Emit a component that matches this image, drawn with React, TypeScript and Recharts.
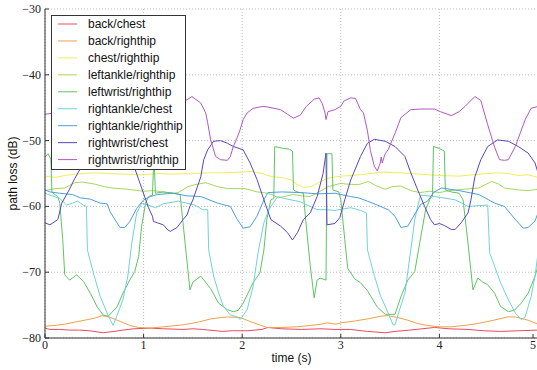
import React from 'react';
import { LineChart, Line, XAxis, YAxis, CartesianGrid, Legend } from 'recharts';

type Pt = [number, number];

const xTicks = [0, 1, 2, 3, 4, 5];
const yTicks = [-80, -70, -60, -50, -40, -30];

const seriesNames = [
  'back/chest',
  'back/righthip',
  'chest/righthip',
  'leftankle/righthip',
  'leftwrist/righthip',
  'rightankle/chest',
  'rightankle/righthip',
  'rightwrist/chest',
  'rightwrist/righthip',
];

const seriesColors = [
  '#e84a5f',
  '#f0a04b',
  '#f2ec5a',
  '#a6d75b',
  '#5ec462',
  '#6fd2dc',
  '#4b9fdc',
  '#5548c0',
  '#b058c8',
];

const backChest: Pt[] = [
  [0, -78.5], [0.05, -78.7], [0.15, -78.7], [0.25, -78.8], [0.35, -78.8], [0.45, -78.9], [0.59, -79.2],
  [0.7, -79.0], [0.79, -78.8], [0.9, -78.6], [1.07, -78.5], [1.2, -78.6], [1.4, -78.7], [1.5, -78.6],
  [1.6, -78.7], [1.8, -79.0], [1.9, -78.9], [2.05, -78.9], [2.2, -78.7], [2.26, -78.4], [2.4, -78.6],
  [2.6, -78.7], [2.8, -78.6], [2.94, -78.7], [3.1, -78.7], [3.27, -79.0], [3.45, -79.2], [3.55, -79.0],
  [3.7, -78.8], [3.95, -78.4], [4.1, -78.6], [4.29, -78.7], [4.45, -78.9], [4.62, -79.0], [4.8, -78.9],
  [5.0, -78.8],
];

const backRighthip: Pt[] = [
  [0, -78.2], [0.1, -78.1], [0.2, -77.9], [0.3, -77.6], [0.4, -77.3], [0.5, -77.0], [0.58, -76.6],
  [0.65, -76.8], [0.75, -77.4], [0.86, -78.1], [0.95, -78.4], [1.07, -78.5], [1.2, -78.3], [1.4, -78.0],
  [1.55, -77.6], [1.68, -77.1], [1.78, -76.9], [1.85, -76.8], [1.98, -76.9], [2.1, -77.6], [2.25, -78.4],
  [2.4, -78.4], [2.55, -78.3], [2.69, -78.1], [2.8, -77.9], [2.86, -77.7], [2.95, -77.9], [3.0, -77.7],
  [3.15, -77.4], [3.27, -77.1], [3.4, -76.7], [3.48, -76.6], [3.58, -76.9], [3.68, -77.3], [3.78, -77.8],
  [3.88, -78.1], [4.0, -78.3], [4.12, -78.3], [4.25, -78.1], [4.39, -77.8], [4.55, -77.3], [4.69, -76.8],
  [4.77, -76.8], [4.9, -77.3], [5.0, -77.9],
];

const chestRighthip: Pt[] = [
  [0, -55.4], [0.1, -55.6], [0.2, -55.3], [0.3, -55.1], [0.5, -54.9], [0.65, -55.0], [0.8, -55.1],
  [1.0, -55.2], [1.15, -55.0], [1.3, -55.1], [1.5, -55.0], [1.65, -54.9], [1.8, -54.9], [2.0, -54.8],
  [2.1, -54.7], [2.2, -55.0], [2.3, -55.5], [2.4, -55.6], [2.5, -56.0], [2.55, -56.6], [2.62, -57.1],
  [2.7, -57.0], [2.76, -56.5], [2.85, -55.8], [2.95, -55.5], [3.0, -55.4], [3.2, -55.2], [3.4, -54.8],
  [3.6, -54.9], [3.8, -55.1], [4.0, -55.3], [4.2, -55.4], [4.4, -55.1], [4.6, -54.9], [4.7, -55.0],
  [4.8, -55.3], [4.9, -55.2], [5.0, -55.6],
];

const leftankleRighthip: Pt[] = [
  [0, -57.6], [0.1, -57.3], [0.2, -57.2], [0.3, -56.4], [0.38, -56.3], [0.5, -56.6], [0.6, -57.0],
  [0.68, -57.2], [0.84, -57.4], [1.0, -57.7], [1.1, -57.6], [1.19, -57.8], [1.3, -58.0], [1.35, -57.9],
  [1.45, -57.0], [1.52, -56.7], [1.63, -56.4], [1.75, -57.0], [1.85, -57.3], [2.03, -57.3], [2.15, -57.8],
  [2.22, -57.9], [2.3, -58.2], [2.37, -58.7], [2.45, -58.4], [2.52, -58.2], [2.6, -58.4], [2.69, -58.5],
  [2.78, -57.8], [2.87, -57.0], [3.0, -56.5], [3.05, -56.6], [3.18, -56.7], [3.28, -56.2], [3.35, -56.8],
  [3.45, -57.4], [3.52, -57.0], [3.61, -56.9], [3.71, -57.6], [3.8, -57.9], [3.9, -57.7], [4.0, -57.9],
  [4.1, -57.6], [4.25, -57.4], [4.4, -57.2], [4.53, -56.2], [4.6, -56.6], [4.66, -57.2], [4.8, -57.5],
  [4.9, -57.6], [5.0, -57.4],
];

const leftwristRighthip: Pt[] = [
  [0, -52.5], [0.03, -52.0], [0.06, -52.8], [0.07, -57.8], [0.1, -58.2], [0.13, -58.5], [0.15, -59.5],
  [0.18, -65.0], [0.2, -70.4], [0.25, -71.2], [0.32, -70.4], [0.39, -71.4], [0.46, -73.2], [0.53, -75.3],
  [0.59, -76.5], [0.64, -76.7], [0.73, -75.3], [0.79, -73.2], [0.86, -71.2], [0.91, -69.9], [0.95, -67.6],
  [0.98, -63.0], [1.02, -59.5], [1.05, -58.5], [1.09, -58.3], [1.1, -54.0], [1.11, -54.2], [1.12, -58.0],
  [1.2, -57.8], [1.3, -58.0], [1.37, -58.2], [1.47, -72.7], [1.5, -71.5], [1.58, -70.6], [1.68, -72.5],
  [1.76, -74.7], [1.85, -75.7], [1.91, -76.0], [1.96, -75.8], [2.01, -74.7], [2.11, -71.6], [2.18, -70.1],
  [2.22, -66.6], [2.25, -62.0], [2.29, -59.0], [2.32, -58.8], [2.33, -50.9], [2.42, -51.2], [2.48, -51.3],
  [2.51, -51.6], [2.52, -57.5], [2.56, -57.8], [2.62, -58.0], [2.65, -63.0], [2.69, -69.0], [2.73, -73.9],
  [2.76, -71.2], [2.79, -70.9], [2.85, -71.2], [2.86, -52.0], [2.91, -52.0], [2.92, -57.5], [2.98, -57.8],
  [3.0, -59.0], [3.04, -65.0], [3.07, -69.4], [3.14, -71.0], [3.2, -71.6], [3.27, -72.8], [3.37, -75.3],
  [3.45, -76.4], [3.55, -76.4], [3.61, -73.7], [3.68, -71.2], [3.75, -69.9], [3.8, -65.6], [3.86, -60.5],
  [3.91, -58.7], [3.93, -58.5], [3.94, -50.9], [4.0, -51.2], [4.05, -51.6], [4.06, -57.5], [4.12, -57.8],
  [4.2, -58.0], [4.24, -59.0], [4.29, -65.6], [4.34, -72.7], [4.39, -70.9], [4.44, -71.5], [4.49, -71.9],
  [4.56, -73.2], [4.62, -75.2], [4.7, -76.0], [4.76, -75.8], [4.83, -74.7], [4.9, -73.2], [4.97, -70.6],
  [5.0, -69.1],
];

const rightankleChest: Pt[] = [
  [0, -58.0], [0.05, -58.3], [0.15, -58.8], [0.22, -59.8], [0.28, -59.5], [0.33, -59.2], [0.39, -59.8],
  [0.42, -60.0], [0.43, -66.6], [0.49, -70.1], [0.56, -73.7], [0.63, -76.2], [0.69, -78.1], [0.74, -76.2],
  [0.79, -74.2], [0.84, -70.6], [0.88, -65.6], [0.93, -61.0], [0.98, -59.5], [1.05, -59.8], [1.12, -60.2],
  [1.2, -59.6], [1.35, -59.2], [1.52, -59.8], [1.6, -60.5], [1.65, -60.5], [1.66, -66.6], [1.71, -70.6],
  [1.76, -73.1], [1.81, -75.2], [1.88, -76.5], [1.95, -76.8], [1.98, -77.2], [2.05, -75.7], [2.11, -72.2],
  [2.16, -67.1], [2.22, -62.5], [2.27, -60.5], [2.36, -58.5], [2.43, -58.8], [2.59, -59.3], [2.76, -60.5],
  [2.85, -60.5], [2.94, -60.6], [3.1, -60.2], [3.2, -60.6], [3.26, -61.0], [3.27, -66.6], [3.34, -70.5],
  [3.4, -73.5], [3.48, -76.2], [3.53, -78.0], [3.55, -78.0], [3.6, -75.5], [3.65, -73.2], [3.71, -66.6],
  [3.75, -62.0], [3.78, -60.0], [3.81, -58.3], [3.95, -58.5], [4.16, -59.0], [4.29, -60.0], [4.49, -59.8],
  [4.51, -67.1], [4.56, -69.1], [4.62, -71.6], [4.7, -74.2], [4.77, -76.2], [4.83, -77.2], [4.87, -76.8],
  [4.93, -73.7], [4.97, -70.6], [5.0, -67.1],
];

const rightankleRighthip: Pt[] = [
  [0, -57.5], [0.05, -57.8], [0.15, -58.0], [0.28, -58.2], [0.36, -58.7], [0.46, -58.9], [0.56, -59.5],
  [0.63, -59.6], [0.66, -60.8], [0.73, -62.5], [0.76, -63.2], [0.81, -63.2], [0.86, -62.3], [0.93, -60.3],
  [1.0, -59.0], [1.07, -58.5], [1.14, -58.2], [1.3, -58.0], [1.44, -58.4], [1.58, -58.5], [1.75, -59.5],
  [1.88, -60.0], [1.95, -62.0], [2.01, -63.3], [2.08, -63.1], [2.15, -61.5], [2.22, -59.0], [2.26, -57.9],
  [2.4, -57.8], [2.6, -57.9], [2.76, -58.1], [2.94, -58.0], [3.1, -58.5], [3.18, -58.7], [3.27, -59.2],
  [3.37, -59.8], [3.48, -60.5], [3.55, -61.5], [3.61, -63.2], [3.68, -63.0], [3.73, -61.7], [3.81, -59.7],
  [3.88, -59.2], [3.94, -57.9], [4.02, -57.2], [4.2, -57.6], [4.4, -58.2], [4.56, -59.5], [4.66, -60.0],
  [4.77, -62.0], [4.85, -63.3], [4.9, -63.2], [4.97, -62.2], [5.0, -61.0],
];

const rightwristChest: Pt[] = [
  [0, -62.5], [0.05, -62.8], [0.1, -62.3], [0.13, -62.0], [0.17, -59.5], [0.245, -57.5], [0.3, -55.8],
  [0.38, -53.7], [0.44, -51.0], [0.84, -51.0], [0.91, -54.2], [0.98, -57.2], [1.05, -60.2], [1.09, -61.5],
  [1.1, -62.3], [1.14, -62.5], [1.2, -62.8], [1.24, -63.5], [1.27, -63.8], [1.34, -63.2], [1.4, -62.0],
  [1.44, -61.3], [1.47, -60.0], [1.5, -59.0], [1.58, -55.5], [1.61, -52.9], [1.65, -51.4], [1.71, -50.1],
  [1.78, -50.0], [1.85, -50.4], [1.91, -50.9], [2.01, -51.4], [2.08, -53.4], [2.15, -55.9], [2.22, -59.0],
  [2.29, -62.0], [2.39, -63.0], [2.46, -64.0], [2.51, -65.1], [2.56, -64.0], [2.62, -62.0], [2.69, -61.0],
  [2.76, -58.5], [2.82, -55.0], [2.85, -51.9], [2.86, -62.8], [2.94, -62.6], [2.99, -61.7], [3.04, -59.0],
  [3.1, -56.0], [3.2, -52.4], [3.27, -50.4], [3.34, -49.8], [3.45, -50.1], [3.55, -50.9], [3.65, -52.4],
  [3.71, -54.9], [3.78, -57.5], [3.85, -60.0], [3.91, -62.0], [3.95, -62.8], [4.0, -62.6], [4.05, -62.9],
  [4.12, -63.5], [4.16, -63.5], [4.22, -62.5], [4.29, -61.0], [4.32, -59.0], [4.36, -55.5], [4.42, -52.9],
  [4.49, -50.9], [4.59, -49.9], [4.7, -50.1], [4.8, -50.9], [4.9, -51.9], [4.97, -53.4], [5.0, -54.9],
];

const rightwristRighthip: Pt[] = [
  [0, -46.0], [0.05, -45.9], [1.44, -43.8], [1.49, -43.3], [1.58, -44.3], [1.63, -45.8], [1.65, -47.3],
  [1.68, -49.9], [1.73, -52.4], [1.78, -52.9], [1.85, -53.0], [1.88, -52.4], [1.91, -50.9], [1.95, -49.5],
  [1.98, -48.3], [2.01, -46.8], [2.05, -45.8], [2.11, -45.1], [2.21, -44.8], [2.26, -44.9], [2.39, -45.3],
  [2.46, -46.0], [2.52, -46.6], [2.59, -46.1], [2.65, -44.8], [2.73, -43.7], [2.78, -43.5], [2.81, -44.3],
  [2.84, -45.8], [2.85, -46.8], [2.87, -45.6], [2.94, -45.3], [3.0, -44.8], [3.03, -44.0], [3.1, -43.5],
  [3.15, -43.6], [3.2, -45.3], [3.23, -45.8], [3.27, -48.5], [3.3, -51.5], [3.34, -53.9], [3.37, -54.6],
  [3.4, -53.4], [3.41, -52.5], [3.42, -53.4], [3.45, -52.0], [3.48, -51.4], [3.55, -48.9], [3.61, -46.5],
  [3.71, -45.3], [3.81, -45.2], [3.95, -45.2], [4.01, -45.6], [4.12, -46.2], [4.2, -45.6], [4.26, -44.8],
  [4.36, -43.3], [4.42, -43.9], [4.49, -47.6], [4.56, -51.0], [4.61, -52.9], [4.66, -53.0], [4.7, -52.9],
  [4.77, -50.9], [4.87, -46.8], [4.93, -45.1], [5.0, -44.8],
];

const seriesPoints: Pt[][] = [
  backChest,
  backRighthip,
  chestRighthip,
  leftankleRighthip,
  leftwristRighthip,
  rightankleChest,
  rightankleRighthip,
  rightwristChest,
  rightwristRighthip,
];

const SERIF = '"Liberation Serif", "Times New Roman", serif';
const SANS = '"Liberation Sans", Arial, sans-serif';
const AXIS = '#333';
const TICK_LEN = 4;

const fmtY = (v: number) => (v < 0 ? `\u2212${Math.abs(v)}` : `${v}`);

const BottomTick = (props: any) => {
  const { x, y, payload } = props;
  return (
    <g>
      <line x1={x} y1={y} x2={x} y2={y - TICK_LEN} stroke={AXIS} strokeWidth={1} />
      <text x={x} y={y + 11} textAnchor="middle" fontFamily={SERIF} fontSize={12} fill="#222">
        {payload.value}
      </text>
    </g>
  );
};

const TopTick = (props: any) => {
  const { x, y } = props;
  return <line x1={x} y1={y} x2={x} y2={y + TICK_LEN} stroke={AXIS} strokeWidth={1} />;
};

const LeftTick = (props: any) => {
  const { x, y, payload } = props;
  return (
    <g>
      <line x1={x} y1={y} x2={x + TICK_LEN} y2={y} stroke={AXIS} strokeWidth={1} />
      <text x={x - 4} y={y + 4} textAnchor="end" fontFamily={SERIF} fontSize={12} fill="#222">
        {fmtY(payload.value)}
      </text>
    </g>
  );
};

const RightTick = (props: any) => {
  const { x, y } = props;
  return <line x1={x} y1={y} x2={x - TICK_LEN} y2={y} stroke={AXIS} strokeWidth={1} />;
};

const XLabel = (props: any) => {
  const vb = props.viewBox || { x: 45, y: 338, width: 493, height: 32 };
  return (
    <text x={vb.x + vb.width / 2} y={vb.y + 24} textAnchor="middle" fontFamily={SANS} fontSize={12} fill="#111">
      time (s)
    </text>
  );
};

const YLabel = (props: any) => {
  const vb = props.viewBox || { x: 0, y: 9, width: 45, height: 329 };
  const cx = vb.x + 16.5;
  const cy = vb.y + vb.height / 2;
  return (
    <text
      x={cx}
      y={cy}
      transform={`rotate(-90 ${cx} ${cy})`}
      textAnchor="middle"
      fontFamily={SANS}
      fontSize={12}
      fill="#111"
    >
      path loss (dB)
    </text>
  );
};

const LegendBox = (props: any) => {
  const items: any[] = props.payload || [];
  const W = 135;
  const H = 155;
  return (
    <svg width={W} height={H} style={{ display: 'block' }}>
      <rect x={0.5} y={0.5} width={W - 1} height={H - 1} fill="#fff" stroke="#333" strokeWidth={1} />
      {items.map((it, i) => {
        const cy = 9 + i * 16.95;
        return (
          <g key={i}>
            <line x1={7} x2={26} y1={cy} y2={cy} stroke={it.color} strokeWidth={1} />
            <text x={37} y={cy + 4} fontFamily={SANS} fontSize={12} fill="#111">
              {it.value}
            </text>
          </g>
        );
      })}
    </svg>
  );
};

export default function App() {
  return (
    <div style={{ position: 'absolute', left: 0, top: 0, width: 537, height: 370, background: '#fff', overflow: 'hidden' }}>
      <LineChart width={537} height={370} margin={{ top: 9, right: -1, bottom: 0, left: 0 }}>
        <CartesianGrid stroke="#bdbdbd" strokeDasharray="1 2" />
        <XAxis
          dataKey="t"
          type="number"
          domain={[0, 5]}
          ticks={xTicks}
          height={32}
          allowDataOverflow
          axisLine={{ stroke: AXIS }}
          tickLine={false}
          tickSize={0}
          tickMargin={0}
          tick={<BottomTick />}
          label={<XLabel />}
        />
        <XAxis
          xAxisId="top"
          orientation="top"
          dataKey="t"
          type="number"
          domain={[0, 5]}
          ticks={xTicks}
          height={0}
          allowDataOverflow
          axisLine={{ stroke: AXIS }}
          tickLine={false}
          tickSize={0}
          tickMargin={0}
          tick={<TopTick />}
        />
        <YAxis
          type="number"
          domain={[-80, -30]}
          ticks={yTicks}
          width={45}
          allowDataOverflow
          axisLine={{ stroke: AXIS }}
          tickLine={false}
          tickSize={0}
          tickMargin={0}
          tick={<LeftTick />}
          label={<YLabel />}
        />
        <YAxis
          yAxisId="right"
          orientation="right"
          type="number"
          domain={[-80, -30]}
          ticks={yTicks}
          width={0}
          allowDataOverflow
          axisLine={{ stroke: AXIS }}
          tickLine={false}
          tickSize={0}
          tickMargin={0}
          tick={<RightTick />}
        />
        {seriesPoints.map((pts, i) => (
          <Line
            key={seriesNames[i]}
            name={seriesNames[i]}
            data={pts.map(([t, v]) => ({ t, v }))}
            dataKey="v"
            type="linear"
            stroke={seriesColors[i]}
            strokeWidth={1}
            dot={false}
            activeDot={false}
            isAnimationActive={false}
          />
        ))}
        <Legend
          layout="vertical"
          align="center"
          verticalAlign="middle"
          width={135}
          height={155}
          wrapperStyle={{ left: 51, top: 15, width: 135, height: 155 }}
          content={<LegendBox />}
        />
      </LineChart>
    </div>
  );
}
